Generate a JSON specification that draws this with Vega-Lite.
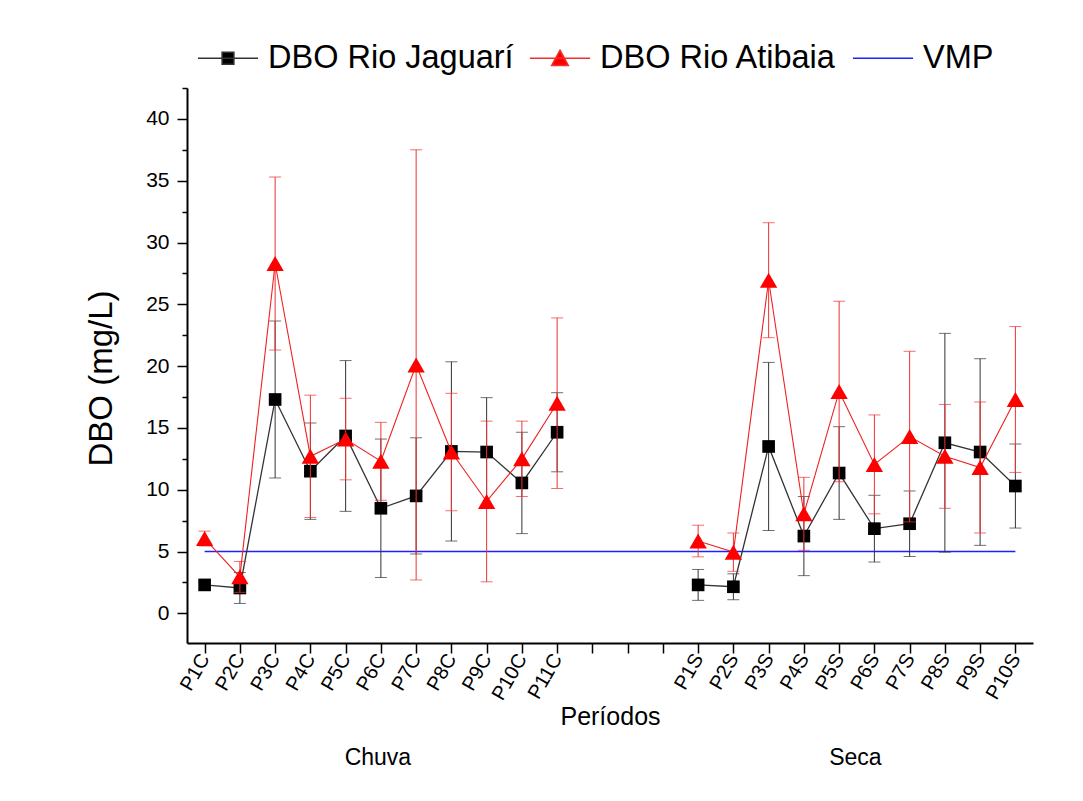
{
  "$schema": "https://vega.github.io/schema/vega-lite/v6.json",
  "width": 846,
  "height": 555,
  "autosize": {"type": "none"},
  "padding": {"left": 187, "top": 88, "right": 50, "bottom": 158},
  "background": "white",
  "config": {
    "view": {"stroke": null},
    "font": "Liberation Sans",
    "axis": {"grid": false}
  },
  "datasets": {
    "dbo": [
      {"s": "DBO Rio Jaguarí", "p": "P1C", "season": "C", "v": 2.3, "lo": 2.0, "hi": 2.6},
      {"s": "DBO Rio Jaguarí", "p": "P2C", "season": "C", "v": 2.05, "lo": 0.8, "hi": 3.3},
      {"s": "DBO Rio Jaguarí", "p": "P3C", "season": "C", "v": 17.3, "lo": 10.95, "hi": 23.65},
      {"s": "DBO Rio Jaguarí", "p": "P4C", "season": "C", "v": 11.5, "lo": 7.6, "hi": 15.4},
      {"s": "DBO Rio Jaguarí", "p": "P5C", "season": "C", "v": 14.35, "lo": 8.25, "hi": 20.45},
      {"s": "DBO Rio Jaguarí", "p": "P6C", "season": "C", "v": 8.5, "lo": 2.9, "hi": 14.1},
      {"s": "DBO Rio Jaguarí", "p": "P7C", "season": "C", "v": 9.5, "lo": 4.8, "hi": 14.2},
      {"s": "DBO Rio Jaguarí", "p": "P8C", "season": "C", "v": 13.1, "lo": 5.85, "hi": 20.35},
      {"s": "DBO Rio Jaguarí", "p": "P9C", "season": "C", "v": 13.05, "lo": 8.65, "hi": 17.45},
      {"s": "DBO Rio Jaguarí", "p": "P10C", "season": "C", "v": 10.55, "lo": 6.45, "hi": 14.65},
      {"s": "DBO Rio Jaguarí", "p": "P11C", "season": "C", "v": 14.65, "lo": 11.45, "hi": 17.85},
      {"s": "DBO Rio Jaguarí", "p": "P1S", "season": "S", "v": 2.3, "lo": 1.05, "hi": 3.55},
      {"s": "DBO Rio Jaguarí", "p": "P2S", "season": "S", "v": 2.15, "lo": 1.1, "hi": 3.2},
      {"s": "DBO Rio Jaguarí", "p": "P3S", "season": "S", "v": 13.5, "lo": 6.7, "hi": 20.3},
      {"s": "DBO Rio Jaguarí", "p": "P4S", "season": "S", "v": 6.25, "lo": 3.05, "hi": 9.45},
      {"s": "DBO Rio Jaguarí", "p": "P5S", "season": "S", "v": 11.35, "lo": 7.6, "hi": 15.1},
      {"s": "DBO Rio Jaguarí", "p": "P6S", "season": "S", "v": 6.85, "lo": 4.15, "hi": 9.55},
      {"s": "DBO Rio Jaguarí", "p": "P7S", "season": "S", "v": 7.25, "lo": 4.6, "hi": 9.9},
      {"s": "DBO Rio Jaguarí", "p": "P8S", "season": "S", "v": 13.8, "lo": 4.95, "hi": 22.65},
      {"s": "DBO Rio Jaguarí", "p": "P9S", "season": "S", "v": 13.05, "lo": 5.5, "hi": 20.6},
      {"s": "DBO Rio Jaguarí", "p": "P10S", "season": "S", "v": 10.3, "lo": 6.9, "hi": 13.7},
      {"s": "DBO Rio Atibaia", "p": "P1C", "season": "C", "v": 6.05, "lo": 5.45, "hi": 6.65},
      {"s": "DBO Rio Atibaia", "p": "P2C", "season": "C", "v": 2.95, "lo": 1.7, "hi": 4.2},
      {"s": "DBO Rio Atibaia", "p": "P3C", "season": "C", "v": 28.3, "lo": 21.3, "hi": 35.3},
      {"s": "DBO Rio Atibaia", "p": "P4C", "season": "C", "v": 12.7, "lo": 7.75, "hi": 17.65},
      {"s": "DBO Rio Atibaia", "p": "P5C", "season": "C", "v": 14.1, "lo": 10.8, "hi": 17.4},
      {"s": "DBO Rio Atibaia", "p": "P6C", "season": "C", "v": 12.3, "lo": 9.15, "hi": 15.45},
      {"s": "DBO Rio Atibaia", "p": "P7C", "season": "C", "v": 20.1, "lo": 2.7, "hi": 37.5},
      {"s": "DBO Rio Atibaia", "p": "P8C", "season": "C", "v": 13.05, "lo": 8.3, "hi": 17.8},
      {"s": "DBO Rio Atibaia", "p": "P9C", "season": "C", "v": 9.05, "lo": 2.55, "hi": 15.55},
      {"s": "DBO Rio Atibaia", "p": "P10C", "season": "C", "v": 12.5, "lo": 9.45, "hi": 15.55},
      {"s": "DBO Rio Atibaia", "p": "P11C", "season": "C", "v": 17.0, "lo": 10.1, "hi": 23.9},
      {"s": "DBO Rio Atibaia", "p": "P1S", "season": "S", "v": 5.85, "lo": 4.57, "hi": 7.13},
      {"s": "DBO Rio Atibaia", "p": "P2S", "season": "S", "v": 4.95, "lo": 3.4, "hi": 6.5},
      {"s": "DBO Rio Atibaia", "p": "P3S", "season": "S", "v": 26.95, "lo": 22.3, "hi": 31.6},
      {"s": "DBO Rio Atibaia", "p": "P4S", "season": "S", "v": 8.05, "lo": 5.1, "hi": 11.0},
      {"s": "DBO Rio Atibaia", "p": "P5S", "season": "S", "v": 17.95, "lo": 10.65, "hi": 25.25},
      {"s": "DBO Rio Atibaia", "p": "P6S", "season": "S", "v": 12.05, "lo": 8.05, "hi": 16.05},
      {"s": "DBO Rio Atibaia", "p": "P7S", "season": "S", "v": 14.3, "lo": 7.4, "hi": 21.2},
      {"s": "DBO Rio Atibaia", "p": "P8S", "season": "S", "v": 12.7, "lo": 8.5, "hi": 16.9},
      {"s": "DBO Rio Atibaia", "p": "P9S", "season": "S", "v": 11.8, "lo": 6.5, "hi": 17.1},
      {"s": "DBO Rio Atibaia", "p": "P10S", "season": "S", "v": 17.3, "lo": 11.4, "hi": 23.2}
    ],
    "vmp": [
      {"s": "VMP", "p": "P1C", "season": "all", "v": 5},
      {"s": "VMP", "p": "P10S", "season": "all", "v": 5}
    ],
    "groups": [
      {"p": "P6C", "t": "Chuva"},
      {"p": "P6S", "t": "Seca"}
    ]
  },
  "encoding": {
    "x": {
      "field": "p",
      "type": "ordinal",
      "sort": ["P1C","P2C","P3C","P4C","P5C","P6C","P7C","P8C","P9C","P10C","P11C","g1","g2","g3","P1S","P2S","P3S","P4S","P5S","P6S","P7S","P8S","P9S","P10S"],
      "scale": {
        "type": "point",
        "padding": 0.5,
        "domain": ["P1C","P2C","P3C","P4C","P5C","P6C","P7C","P8C","P9C","P10C","P11C","g1","g2","g3","P1S","P2S","P3S","P4S","P5S","P6S","P7S","P8S","P9S","P10S"]
      },
      "title": "Períodos",
      "axis": {
        "labelExpr": "indexof(datum.value, 'g') === 0 ? '' : datum.value",
        "labelAngle": -60,
        "labelAlign": "right",
        "labelBaseline": "middle",
        "labelFontSize": 20,
        "labelColor": "black",
        "labelPadding": 2,
        "labelOverlap": false,
        "tickSize": 10,
        "tickColor": "black",
        "tickWidth": 1.5,
        "domainColor": "black",
        "domainWidth": 2,
        "titleFontSize": 25,
        "titleFontWeight": "normal",
        "titleColor": "black",
        "titlePadding": 1
      }
    },
    "y": {
      "field": "v",
      "type": "quantitative",
      "title": "DBO (mg/L)",
      "scale": {"domain": [-2.4, 42.5], "nice": false, "zero": false},
      "axis": {
        "values": [0, 2.5, 5, 7.5, 10, 12.5, 15, 17.5, 20, 22.5, 25, 27.5, 30, 32.5, 35, 37.5, 40, 42.5],
        "labelExpr": "datum.value % 5 === 0 ? datum.label : ''",
        "tickSize": {"condition": {"test": "datum.value % 5 === 0", "value": 10}, "value": 5},
        "labelFontSize": 21,
        "labelColor": "black",
        "labelPadding": 8,
        "labelOverlap": false,
        "tickColor": "black",
        "tickWidth": 1.5,
        "domainColor": "black",
        "domainWidth": 2,
        "titleFontSize": 33,
        "titleFontWeight": "normal",
        "titleColor": "black",
        "titlePadding": 27,
        "titleY": 290
      }
    }
  },
  "layer": [
    {
      "data": {"name": "vmp"},
      "mark": {"type": "line", "color": "#2020ff", "strokeWidth": 1.5},
      "encoding": {}
    },
    {
      "data": {"name": "dbo"},
      "transform": [{"filter": "datum.s === 'DBO Rio Jaguarí'"}],
      "layer": [
        {
          "mark": {"type": "rule", "color": "#333333", "strokeWidth": 1},
          "encoding": {
            "y": {"field": "lo", "type": "quantitative", "title": "DBO (mg/L)", "scale": {"domain": [-2.4, 42.5], "nice": false, "zero": false}},
            "y2": {"field": "hi"}
          }
        },
        {
          "mark": {"type": "tick", "color": "#333333", "size": 12, "thickness": 1},
          "encoding": {"y": {"field": "lo", "type": "quantitative", "title": "DBO (mg/L)", "scale": {"domain": [-2.4, 42.5], "nice": false, "zero": false}}}
        },
        {
          "mark": {"type": "tick", "color": "#333333", "size": 12, "thickness": 1},
          "encoding": {"y": {"field": "hi", "type": "quantitative", "title": "DBO (mg/L)", "scale": {"domain": [-2.4, 42.5], "nice": false, "zero": false}}}
        },
        {
          "mark": {"type": "line", "color": "#333333", "strokeWidth": 1.3},
          "encoding": {"detail": {"field": "season"}}
        },
        {
          "mark": {"type": "point", "shape": "square", "filled": true, "size": 160, "color": "black", "opacity": 1}
        }
      ]
    },
    {
      "data": {"name": "dbo"},
      "transform": [{"filter": "datum.s === 'DBO Rio Atibaia'"}],
      "layer": [
        {
          "mark": {"type": "rule", "color": "#f03030", "strokeWidth": 1},
          "encoding": {
            "y": {"field": "lo", "type": "quantitative", "title": "DBO (mg/L)", "scale": {"domain": [-2.4, 42.5], "nice": false, "zero": false}},
            "y2": {"field": "hi"}
          }
        },
        {
          "mark": {"type": "tick", "color": "#f03030", "size": 12, "thickness": 1},
          "encoding": {"y": {"field": "lo", "type": "quantitative", "title": "DBO (mg/L)", "scale": {"domain": [-2.4, 42.5], "nice": false, "zero": false}}}
        },
        {
          "mark": {"type": "tick", "color": "#f03030", "size": 12, "thickness": 1},
          "encoding": {"y": {"field": "hi", "type": "quantitative", "title": "DBO (mg/L)", "scale": {"domain": [-2.4, 42.5], "nice": false, "zero": false}}}
        },
        {
          "mark": {"type": "line", "color": "#f02020", "strokeWidth": 1.1},
          "encoding": {"detail": {"field": "season"}}
        },
        {
          "mark": {"type": "point", "shape": "triangle-up", "filled": true, "size": 300, "color": "#ff0000", "opacity": 1}
        }
      ]
    },
    {
      "data": {"name": "dbo"},
      "mark": {"type": "point", "filled": true, "opacity": 0},
      "encoding": {
        "fill": {
          "field": "s", "type": "nominal",
          "scale": {"domain": ["DBO Rio Jaguarí", "DBO Rio Atibaia", "VMP"], "range": ["#000000", "#ff0000", "#2020ff"]},
          "legend": {"title": null, "orient": "none", "legendX": 9, "legendY": -62, "direction": "horizontal", "symbolSize": 3844, "symbolStrokeWidth": 1.5, "symbolOpacity": 1, "labelFontSize": 32.5, "labelFont": "Liberation Sans", "labelColor": "black", "labelLimit": 600, "columnPadding": 12, "labelOffset": 8, "padding": 0}
        },
        "stroke": {
          "field": "s", "type": "nominal",
          "scale": {"domain": ["DBO Rio Jaguarí", "DBO Rio Atibaia", "VMP"], "range": ["#333333", "#f03030", "#2020ff"]},
          "legend": {"title": null, "orient": "none", "legendX": 9, "legendY": -62, "direction": "horizontal", "symbolSize": 3844, "symbolStrokeWidth": 1.5, "symbolOpacity": 1, "labelFontSize": 32.5, "labelFont": "Liberation Sans", "labelColor": "black", "labelLimit": 600, "columnPadding": 12, "labelOffset": 8, "padding": 0}
        },
        "shape": {
          "field": "s", "type": "nominal",
          "scale": {"domain": ["DBO Rio Jaguarí", "DBO Rio Atibaia", "VMP"], "range": ["M-0.97,0L0.97,0M-0.19,-0.19L0.19,-0.19L0.19,0.19L-0.19,0.19Z", "M-0.97,0L0.97,0M0,-0.26L0.27,0.23L-0.27,0.23Z", "M-0.97,0L0.97,0"]},
          "legend": {"title": null, "orient": "none", "legendX": 9, "legendY": -62, "direction": "horizontal", "symbolSize": 3844, "symbolStrokeWidth": 1.5, "symbolOpacity": 1, "labelFontSize": 32.5, "labelFont": "Liberation Sans", "labelColor": "black", "labelLimit": 600, "columnPadding": 12, "labelOffset": 8, "padding": 0}
        }
      }
    },
    {
      "data": {"name": "groups"},
      "transform": [{"filter": "datum.t === 'Chuva'"}],
      "mark": {"type": "text", "align": "center", "baseline": "middle", "dx": -3, "fontSize": 23, "color": "black", "clip": false},
      "encoding": {
        "y": {"value": {"expr": "height + 115"}},
        "text": {"field": "t", "type": "nominal"}
      }
    },
    {
      "data": {"name": "groups"},
      "transform": [{"filter": "datum.t === 'Seca'"}],
      "mark": {"type": "text", "align": "center", "baseline": "middle", "dx": -19, "fontSize": 23, "color": "black", "clip": false},
      "encoding": {
        "y": {"value": {"expr": "height + 115"}},
        "text": {"field": "t", "type": "nominal"}
      }
    }
  ]
}
